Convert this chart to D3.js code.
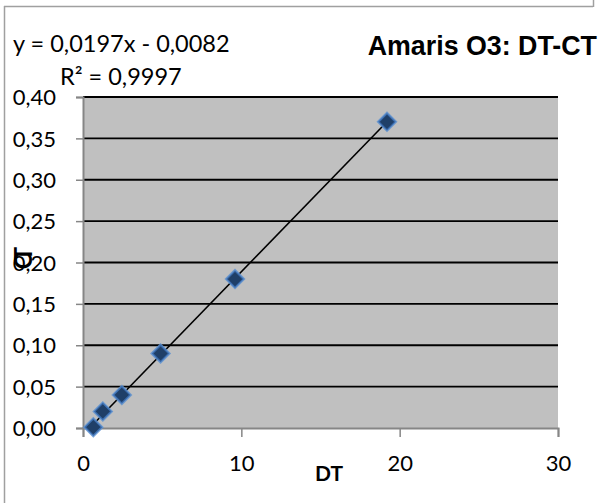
<!DOCTYPE html>
<html><head><meta charset="utf-8">
<script src="https://cdn.jsdelivr.net/npm/d3@7/dist/d3.min.js"></script>
<style>html,body{margin:0;padding:0;background:#fff;}svg{display:block;}</style>
</head><body>
<svg id="c" width="600" height="503"></svg>
<script>
// Data
const dtValues = [0.65, 1.25, 2.45, 4.9, 9.6, 19.2];
const ctValues = [0.001, 0.02, 0.04, 0.09, 0.18, 0.37];
const trendSlope = 0.0197;
const trendIntercept = -0.0082;
const xTicks = [0, 10, 20, 30];
const yTicks = [0, 0.05, 0.10, 0.15, 0.20, 0.25, 0.30, 0.35, 0.40];
const titleText = "Amaris O3: DT-CT";
const eqText = "y = 0,0197x - 0,0082";
const r2Text = "R² = 0,9997";

const svg = d3.select("#c");
const x = d3.scaleLinear().domain([0, 30]).range([83, 558]);
const y = d3.scaleLinear().domain([0, 0.4]).range([428, 97]);
const fmtY = v => d3.format(".2f")(v).replace(".", ",");
const font = "Lato, 'Open Sans', sans-serif";

// frame
svg.append("line").attr("x1",4.5).attr("x2",4.5).attr("y1",6).attr("y2",503).attr("stroke","#a0a0a0").attr("stroke-width",1.5);
svg.append("line").attr("x1",4).attr("x2",593).attr("y1",6.5).attr("y2",6.5).attr("stroke","#a0a0a0").attr("stroke-width",1.5);
svg.append("line").attr("x1",593.5).attr("x2",593.5).attr("y1",0).attr("y2",7).attr("stroke","#a0a0a0").attr("stroke-width",1.5);

// plot area
svg.append("rect").attr("x",x(0)).attr("y",y(0.4)).attr("width",x(30)-x(0)).attr("height",y(0)-y(0.4)).attr("fill","#c0c0c0");

// gridlines
svg.append("g").selectAll("line").data(yTicks.filter(d=>d>0)).join("line")
  .attr("x1",x(0)).attr("x2",x(30)).attr("y1",d=>y(d)).attr("y2",d=>y(d))
  .attr("stroke","#000").attr("stroke-width",1.8);

// y axis
const yAxis = d3.axisLeft(y).tickValues(yTicks).tickSize(7).tickFormat(fmtY).tickPadding(20);
const gy = svg.append("g").attr("transform",`translate(${x(0)},0)`).call(yAxis);
gy.select(".domain").attr("stroke","#868686").attr("stroke-width",2);
gy.selectAll(".tick line").attr("stroke","#868686").attr("stroke-width",1.5);
gy.selectAll(".tick text").attr("font-family",font).attr("font-size",22).attr("fill","#000").attr("dy","0.35em");

// x axis
const xAxis = d3.axisBottom(x).tickValues(xTicks).tickSize(9).tickFormat(d3.format("d")).tickPadding(18);
const gx = svg.append("g").attr("transform",`translate(0,${y(0)})`).call(xAxis);
gx.select(".domain").attr("stroke","#868686").attr("stroke-width",2);
gx.selectAll(".tick line").attr("stroke","#868686").attr("stroke-width",1.5);
gx.selectAll(".tick text").attr("font-family",font).attr("font-size",22).attr("fill","#000");

// trendline
const xmin = d3.min(dtValues), xmax = d3.max(dtValues);
svg.append("line")
  .attr("x1",x(xmin)).attr("y1",y(trendSlope*xmin+trendIntercept))
  .attr("x2",x(xmax)).attr("y2",y(trendSlope*xmax+trendIntercept))
  .attr("stroke","#000").attr("stroke-width",1.6);

// markers
const pts = svg.append("g").selectAll("g").data(dtValues.map((d,i)=>[d,ctValues[i]])).join("g")
  .attr("transform",d=>`translate(${x(d[0])},${y(d[1])})`);
pts.append("path").attr("d","M0,-10.5L10.5,0L0,10.5L-10.5,0Z").attr("fill","#5b8fd0").attr("opacity",0.85);
pts.append("path").attr("d","M0,-8L8,0L0,8L-8,0Z").attr("fill","#1f3f68").attr("stroke","#3a6cae").attr("stroke-width",1.2);

// title
svg.append("text").attr("x",597).attr("y",55).attr("text-anchor","end")
  .attr("font-family","'Liberation Sans', Arial, sans-serif").attr("font-weight","bold").attr("font-size",26.8).attr("fill","#000").text(titleText);

// equation
svg.append("text").attr("x",13).attr("y",52).attr("font-family",font).attr("font-size",23.5).attr("fill","#000").text(eqText);
svg.append("text").attr("x",60).attr("y",85).attr("font-family",font).attr("font-size",23.5).attr("fill","#000").text(r2Text);

// axis titles
svg.append("text").attr("x",329).attr("y",481).attr("text-anchor","middle").attr("font-family",font).attr("font-weight","bold").attr("font-size",21).attr("fill","#000").text("DT");
svg.append("text").attr("transform","translate(32,262) rotate(-90)").attr("text-anchor","middle")
  .attr("font-family",font).attr("font-weight","bold").attr("font-size",24).attr("letter-spacing","-8").attr("fill","#000").text("CT");
</script>
</body></html>
